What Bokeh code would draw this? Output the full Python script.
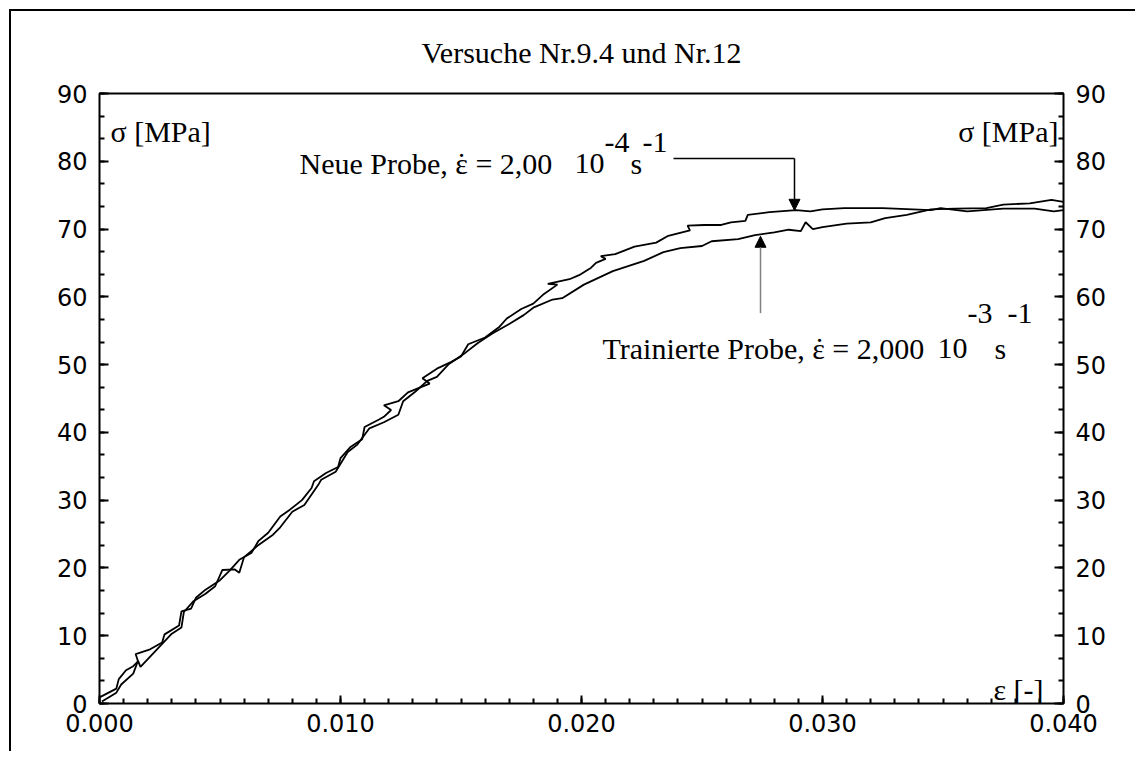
from bokeh.plotting import figure
from bokeh.models import (Range1d, LinearAxis, SingleIntervalTicker, PrintfTickFormatter,
                          Label, Arrow, NormalHead, ColumnDataSource)
from bokeh.embed import file_html
from bokeh.resources import INLINE

# ---------------- data ----------------
title_text = "Versuche Nr.9.4 und Nr.12"

# Neue Probe (strain rate 2,00 10^-4 s^-1)
eps_neu = [0.0000, 0.0007, 0.0008, 0.0011, 0.0014, 0.0016, 0.0015, 0.0021, 0.0026, 0.0027,
           0.0033, 0.0034, 0.0038, 0.0040, 0.0044, 0.0050, 0.0054, 0.0058, 0.0063, 0.0066,
           0.0070, 0.0075, 0.0079, 0.0084, 0.0088, 0.0089, 0.0094, 0.0099, 0.0100, 0.0104,
           0.0109, 0.0110, 0.0116, 0.0118, 0.0121, 0.0118, 0.0124, 0.0128, 0.0137, 0.0134,
           0.0140, 0.0146, 0.0150, 0.0153, 0.0160, 0.0166, 0.0169, 0.0175, 0.0180, 0.0184,
           0.0190, 0.0186, 0.0195, 0.0199, 0.0204, 0.0206, 0.0210, 0.0208, 0.0214, 0.0222,
           0.0231, 0.0236, 0.0245, 0.0244, 0.0251, 0.0258, 0.0262, 0.0268, 0.0269, 0.0278,
           0.0289, 0.0295, 0.0300, 0.0309, 0.0325, 0.0345, 0.0349, 0.0360, 0.0375, 0.0388,
           0.0396, 0.0400]
sig_neu = [0.9, 2.2, 3.6, 4.9, 5.5, 6.2, 7.3, 8.0, 9.0, 10.2,
           11.5, 13.6, 14.0, 15.6, 16.8, 18.2, 19.6, 21.2, 22.2, 24.0,
           25.2, 27.6, 28.6, 30.0, 31.8, 32.8, 34.0, 34.9, 36.2, 37.8,
           39.0, 40.8, 41.9, 42.3, 43.3, 44.0, 44.6, 45.9, 47.2, 48.0,
           49.4, 50.4, 51.2, 53.0, 54.0, 55.6, 56.8, 58.2, 59.0, 60.3,
           61.8, 61.9, 62.6, 63.2, 64.3, 65.0, 65.6, 66.0, 66.3, 67.4,
           68.0, 69.0, 69.8, 70.5, 70.6, 70.6, 71.0, 71.2, 72.1, 72.5,
           72.8, 72.6, 72.9, 73.1, 73.1, 72.8, 73.1, 72.6, 73.0, 73.0,
           72.6, 72.8]

# Trainierte Probe (strain rate 2,000 10^-3 s^-1)
eps_tr = [0.0001, 0.0007, 0.0009, 0.0014, 0.0016, 0.0017, 0.0022, 0.0026, 0.0030, 0.0034,
          0.0035, 0.0039, 0.0044, 0.0048, 0.0051, 0.0056, 0.0058, 0.0060, 0.0066, 0.0072,
          0.0075, 0.0080, 0.0085, 0.0091, 0.0092, 0.0098, 0.0103, 0.0107, 0.0112, 0.0118,
          0.0124, 0.0126, 0.0131, 0.0136, 0.0140, 0.0145, 0.0152, 0.0157, 0.0163, 0.0170,
          0.0176, 0.0180, 0.0188, 0.0192, 0.0201, 0.0213, 0.0226, 0.0234, 0.0241, 0.0250,
          0.0254, 0.0265, 0.0272, 0.0280, 0.0286, 0.0291, 0.0293, 0.0296, 0.0300, 0.0310,
          0.0320, 0.0326, 0.0335, 0.0345, 0.0355, 0.0368, 0.0375, 0.0386, 0.0395, 0.0400]
sig_tr = [0.3, 1.6, 2.8, 4.4, 6.3, 5.4, 7.3, 8.8, 10.3, 11.2,
          13.5, 15.1, 16.2, 17.3, 19.7, 19.8, 19.3, 21.6, 23.4, 24.9,
          26.0, 28.3, 29.3, 32.4, 33.0, 34.2, 37.1, 38.2, 40.6, 41.5,
          42.6, 44.6, 46.0, 47.6, 48.2, 50.1, 51.8, 53.2, 54.6, 56.0,
          57.3, 58.4, 59.6, 59.8, 61.8, 63.8, 65.3, 66.6, 67.2, 67.5,
          68.2, 68.5, 69.1, 69.5, 69.9, 69.7, 71.0, 70.0, 70.3, 70.8,
          71.0, 71.6, 72.1, 72.9, 73.0, 73.1, 73.6, 73.8, 74.3, 74.0]

x_ticks_interval = 0.010
y_ticks_interval = 10
X_MIN, X_MAX = 0.0, 0.040
Y_MIN, Y_MAX = 0.0, 90.0

# ---------------- layout helpers (window pixel -> data) ----------------
FX0, FX1 = 99, 1063     # frame left/right in window px
FY0, FY1 = 703, 92      # frame bottom/top in window px


def px2x(px):
    return X_MIN + (px - FX0) / (FX1 - FX0) * (X_MAX - X_MIN)


def py2y(py):
    return Y_MIN + (FY0 - py) / (FY0 - FY1) * (Y_MAX - Y_MIN)


SERIF = "Liberation Serif"
SANS = "DejaVu Sans"
TXT = "30px"

p = figure(width=1126, height=742, output_backend="svg", toolbar_location=None,
           x_range=Range1d(X_MIN, X_MAX), y_range=Range1d(Y_MIN, Y_MAX),
           min_border_left=90, min_border_right=72, min_border_top=83, min_border_bottom=48,
           title=title_text)
# outer page frame (left and top edges) painted behind a transparent border area
p.styles = {"margin-left": "9px", "margin-top": "9px",
            "background-image": "linear-gradient(#000, #000), linear-gradient(#000, #000)",
            "background-size": "2px 100%, 100% 2px",
            "background-position": "left top, left top",
            "background-repeat": "no-repeat"}
p.border_fill_color = None
p.background_fill_color = "white"
p.title.align = "center"
p.title.text_font = SERIF
p.title.text_font_size = "30px"
p.title.text_font_style = "normal"
p.title.text_color = "black"
p.title.standoff = 49
p.outline_line_color = "black"
p.outline_line_width = 2
p.xgrid.visible = False
p.ygrid.visible = False

right_axis = LinearAxis()
p.add_layout(right_axis, "right")

for ax in p.yaxis:
    ax.ticker = SingleIntervalTicker(interval=y_ticks_interval, num_minor_ticks=3)
    ax.axis_line_color = None
    ax.major_tick_in = 9
    ax.major_tick_out = 0
    ax.minor_tick_in = 5
    ax.minor_tick_out = 0
    ax.major_tick_line_width = 2
    ax.minor_tick_line_width = 2
    ax.major_label_text_font = SANS
    ax.major_label_text_font_size = "24px"
    ax.major_label_text_color = "black"
    ax.major_label_standoff = 12

for ax in p.xaxis:
    ax.ticker = SingleIntervalTicker(interval=x_ticks_interval, num_minor_ticks=10)
    ax.formatter = PrintfTickFormatter(format="%.3f")
    ax.axis_line_color = None
    ax.major_tick_in = 8
    ax.major_tick_out = 0
    ax.minor_tick_in = 5
    ax.minor_tick_out = 0
    ax.major_tick_line_width = 2
    ax.minor_tick_line_width = 2
    ax.major_label_text_font = SANS
    ax.major_label_text_font_size = "24px"
    ax.major_label_text_color = "black"
    ax.major_label_standoff = 10

src_neu = ColumnDataSource(dict(x=eps_neu, y=sig_neu))
src_tr = ColumnDataSource(dict(x=eps_tr, y=sig_tr))
p.line("x", "y", source=src_neu, line_color="black", line_width=1.8)
p.line("x", "y", source=src_tr, line_color="black", line_width=1.8)


def lab(px, py, text, size=TXT, font=SERIF, align="left", baseline="alphabetic"):
    p.add_layout(Label(x=px2x(px), y=py2y(py), text=text, text_font=font,
                       text_font_size=size, text_align=align, text_baseline=baseline,
                       text_color="black"))


# axis labels inside frame
lab(110, 130, "σ [MPa]")
lab(1058, 130, "σ [MPa]", align="right")
lab(1043, 689, "ε [-]", align="right")

# annotation 1: Neue Probe
lab(299, 162, "Neue Probe, ε = 2,00")
lab(461, 162, "\u02d9", align="center")
lab(574, 162, "10")
lab(604, 141, "-4")
lab(630, 162, "s")
lab(642, 141, "-1")
p.line([px2x(673), px2x(794)], [py2y(157), py2y(157)], line_color="black", line_width=1.5)
p.add_layout(Arrow(end=NormalHead(size=11, fill_color="black", line_color="black"),
                   x_start=px2x(794), y_start=py2y(157), x_end=px2x(794), y_end=py2y(209),
                   line_color="black", line_width=1.5))

# annotation 2: Trainierte Probe
lab(602, 347, "Trainierte Probe, ε = 2,000")
lab(819, 347, "\u02d9", align="center")
lab(937, 347, "10")
lab(967, 312, "-3")
lab(994, 347, "s")
lab(1007, 312, "-1")
p.add_layout(Arrow(end=NormalHead(size=11, fill_color="black", line_color="black"),
                   x_start=px2x(760), y_start=py2y(312), x_end=px2x(760), y_end=py2y(235),
                   line_color="#808080", line_width=1.5))

open("out.html", "w").write(file_html(p, INLINE))
